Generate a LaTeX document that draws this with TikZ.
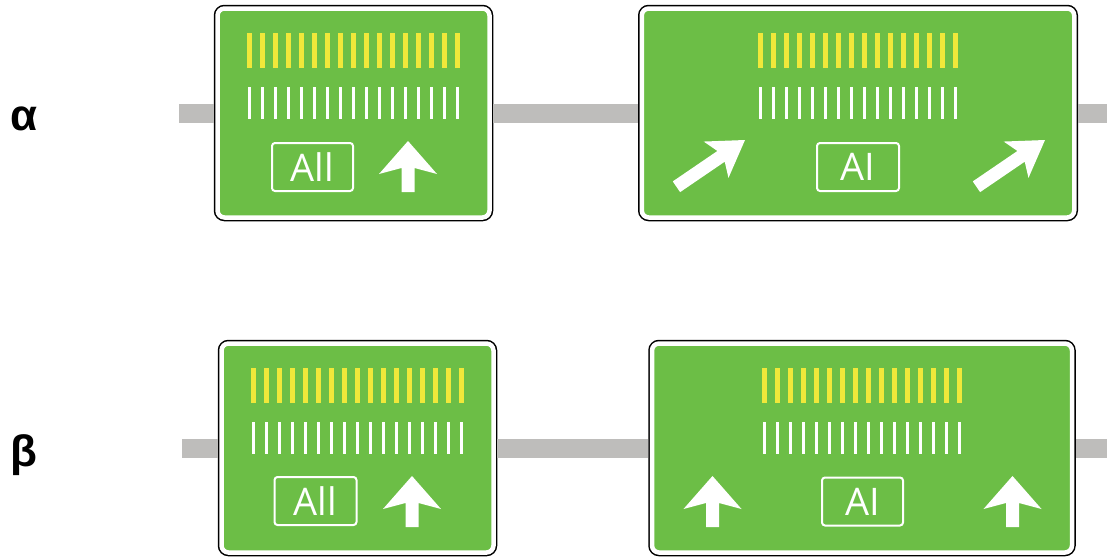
\documentclass[tikz,border=0pt]{standalone}
\usepackage{fontspec}
\setsansfont{Open Sans}
\newfontfamily\labelfont{Liberation Sans}
\definecolor{signgreen}{RGB}{108,190,70}
\definecolor{laneyellow}{RGB}{240,232,58}
\definecolor{beamgray}{RGB}{190,189,187}
\usetikzlibrary{arrows.meta,positioning}

% white lane arrow: tip x, tip y, angle, head half width, head length, total length
\newcommand{\lanearrow}[6]{%
  \fill[white, shift={(#1,#2)}, rotate=#3] (0,0) -- (#4,#5) -- (6.5,#5-6) -- (6.5,#6) -- (-6.5,#6) -- (-6.5,#5-6) -- (-#4,#5) -- cycle;}

\begin{document}
\begin{tikzpicture}[x=1pt, y=-1pt,
  board/.style={draw=white, fill=signgreen, line width=4.5pt, rounded corners=7pt, outer sep=3.75pt, preaction={draw=black, line width=7.5pt}},
  beam/.style={draw=beamgray, line width=19pt},
  tagbox/.style={draw=white, line width=2pt, rounded corners=3pt, minimum height=48pt, inner sep=0pt, text=white, font=\sffamily\fontsize{38}{38}\selectfont},
  greek/.style={inner sep=0pt, font=\labelfont\bfseries\fontsize{44}{44}\selectfont}]
  \useasboundingbox (0,0) rectangle (1107,557);

  %% Row alpha
  \node[greek] (alpha) at (24,119) {α};
  \node[board, minimum width=272pt, minimum height=209pt] (a1) at (353.5,113) {};
  \node[board, minimum width=432.5pt, minimum height=209pt] (a2) at (858,113) {};
  \coordinate (a0) at (179,113);
  \coordinate (a3) at (1107,113);
  \draw[beam] (a0) -- (a1.west);
  \draw[beam] (a1.east) -- (a2.west);
  \draw[beam] (a2.east) -- (a3);

  \begin{scope}[shift={(a1.center)}]
    \foreach \x in {-104,-91,...,104} {
      \fill[laneyellow] (\x-2.7,-80) rectangle (\x+2.7,-45);
      \fill[white] (\x-1.6,-26) rectangle (\x+1.6,6);
    }
    \node[tagbox, minimum width=81pt] (a1tag) at (-41,54) {All};
    \lanearrow{54.5}{28}{0}{29}{33}{51}
  \end{scope}

  \begin{scope}[shift={(a2.center)}]
    \foreach \x in {-97.5,-84.5,...,97.5} {
      \fill[laneyellow] (\x-2.7,-80) rectangle (\x+2.7,-45);
      \fill[white] (\x-1.6,-26) rectangle (\x+1.6,6);
    }
    \node[tagbox, minimum width=82pt] (a2tag) at (0,54) {AI};
    \lanearrow{-113}{27}{-55.7}{22}{35}{83}
    \lanearrow{187}{27}{-55.7}{22}{35}{83}
  \end{scope}

  %% Row beta
  \node[greek] (beta) at (23.5,455) {β};
  \node[board, minimum width=272pt, minimum height=209pt] (b1) at (357.5,448) {};
  \node[board, minimum width=420pt, minimum height=209pt] (b2) at (862,448) {};
  \coordinate (b0) at (182,448);
  \coordinate (b3) at (1107,448);
  \draw[beam] (b0) -- (b1.west);
  \draw[beam] (b1.east) -- (b2.west);
  \draw[beam] (b2.east) -- (b3);

  \begin{scope}[shift={(b1.center)}]
    \foreach \x in {-104,-91,...,104} {
      \fill[laneyellow] (\x-2.7,-80) rectangle (\x+2.7,-45);
      \fill[white] (\x-1.6,-26) rectangle (\x+1.6,6);
    }
    \node[tagbox, minimum width=82pt] (b1tag) at (-42,53) {All};
    \lanearrow{54.5}{28}{0}{29}{33}{51}
  \end{scope}

  \begin{scope}[shift={(b2.center)}]
    \foreach \x in {-97.5,-84.5,...,97.5} {
      \fill[laneyellow] (\x-2.7,-80) rectangle (\x+2.7,-45);
      \fill[white] (\x-1.6,-26) rectangle (\x+1.6,6);
    }
    \node[tagbox, minimum width=81pt] (b2tag) at (0.5,53.5) {AI};
    \lanearrow{-149.5}{28}{0}{29}{33}{51}
    \lanearrow{150.5}{28}{0}{29}{33}{51}
  \end{scope}
\end{tikzpicture}
\end{document}
